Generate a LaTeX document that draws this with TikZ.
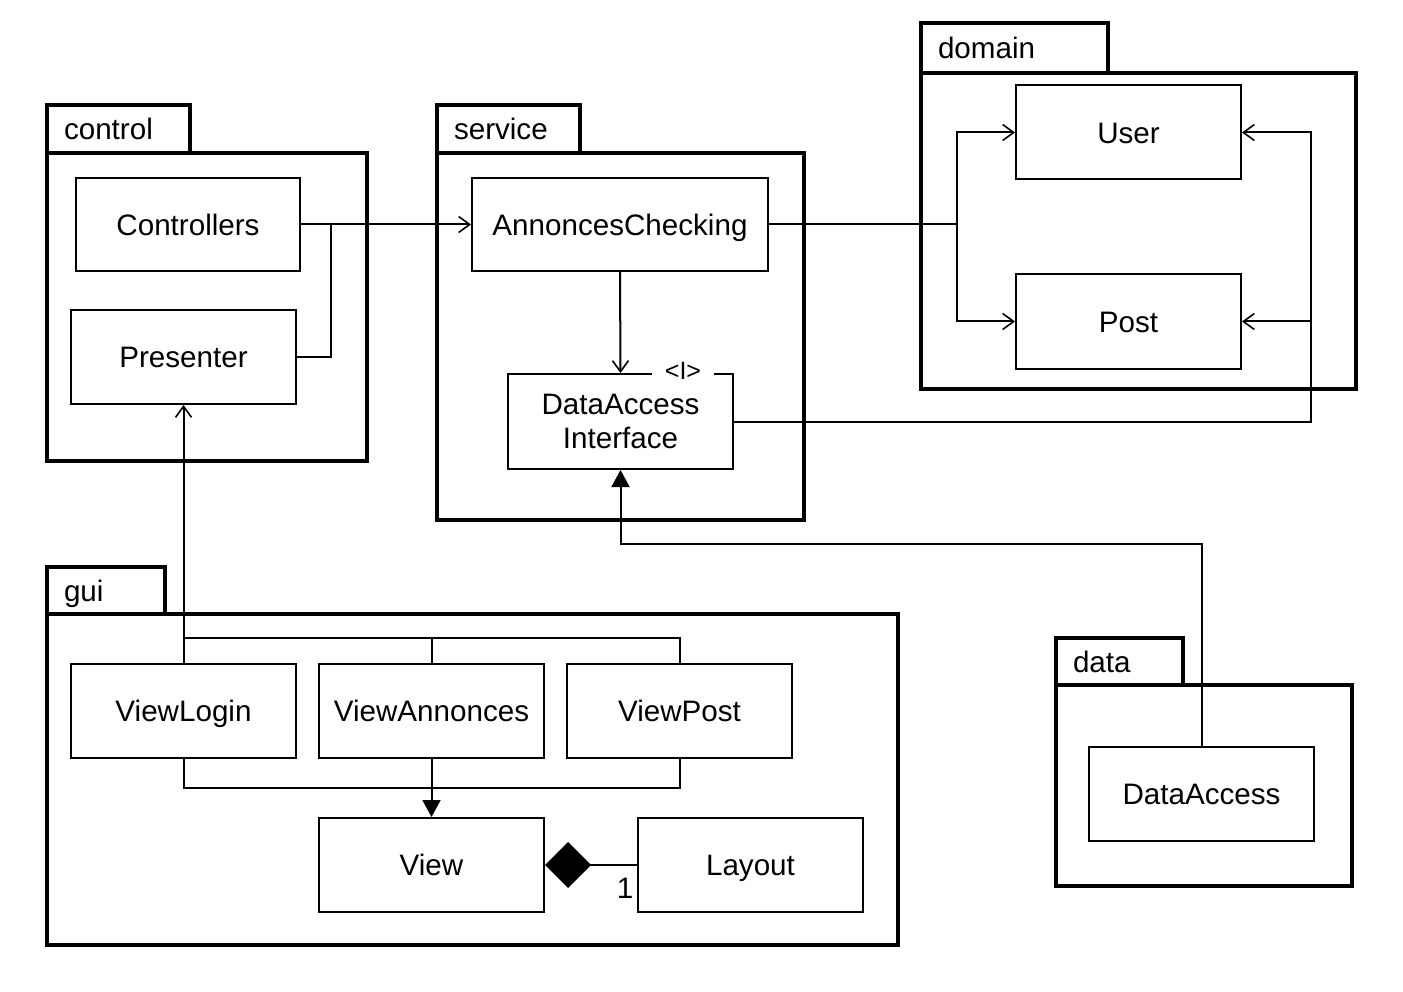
\documentclass[tikz,border=0pt]{standalone}
\usepackage{fontspec}
\setmainfont{Liberation Sans}
\usetikzlibrary{arrows.meta}
\newcommand\clsfont{\fontsize{29.6}{34}\selectfont}
\newcommand\smlfont{\fontsize{25}{28}\selectfont}
\begin{document}
\begin{tikzpicture}[x=1pt,y=-1pt,
  clsbase/.style={draw, line width=2pt, minimum width=225pt, minimum height=94pt, inner sep=0pt, align=center, font=\clsfont, fill=white},
  cls/.style={clsbase, text height=21.2pt, text depth=0pt},
  pkgbody/.style={draw, line width=4pt, anchor=north west, inner sep=0pt, outer sep=0pt},
  pkgtab/.style={draw, line width=4pt, anchor=north west, outer sep=0pt, inner xsep=17pt, inner ysep=0pt, align=left, font=\clsfont, text height=21.2pt, text depth=0pt},
  conn/.style={line width=2pt},
  oarrow/.style={conn, -{Straight Barb[length=11pt,width=16pt,line width=1.6pt]}},
  tri/.style={conn, -{Triangle[length=17pt,width=18pt]}},
  comp/.style={conn, -{Diamond[length=46pt,width=46pt]}}
]
\useasboundingbox (0,0) rectangle (1403,992);
\fill[white] (0,0) rectangle (1403,992);

% packages
\node[pkgbody, minimum width=320pt, minimum height=308pt] (pctrl) at (47,153) {};
\node[pkgtab, text width=109pt, minimum height=48pt] (tctrl) at (47,105) {control};
\node[pkgbody, minimum width=367pt, minimum height=367pt] (pserv) at (437,153) {};
\node[pkgtab, text width=109pt, minimum height=48pt] (tserv) at (437,105) {service};
\node[pkgbody, minimum width=435pt, minimum height=316pt] (pdom) at (921,73) {};
\node[pkgtab, text width=153pt, minimum height=50pt] (tdom) at (921,23) {domain};
\node[pkgbody, minimum width=851pt, minimum height=331pt] (pgui) at (47,614) {};
\node[pkgtab, text width=84pt, minimum height=47pt] (tgui) at (47,567) {gui};
\node[pkgbody, minimum width=296pt, minimum height=201pt] (pdata) at (1056,685) {};
\node[pkgtab, text width=93pt, minimum height=47pt] (tdata) at (1056,638) {data};

% classes
\node[cls, minimum width=224pt, minimum height=93pt] (ctrl) at (188,224.5) {Controllers};
\node[cls] (pres) at (183.5,357) {Presenter};
\node[cls, minimum width=296pt, minimum height=93pt] (ach) at (620,224.5) {AnnoncesChecking};
\node[clsbase, minimum height=95pt] (dai) at (620.5,421.5) {DataAccess\\Interface};
\node[cls] (user) at (1128.5,132.5) {User};
\node[cls] (post) at (1128.5,321.5) {Post};
\node[cls] (vlogin) at (183.5,711) {ViewLogin};
\node[cls] (vann) at (431.5,711) {ViewAnnonces};
\node[cls] (vpost) at (679.5,711) {ViewPost};
\node[cls] (view) at (431.5,865) {View};
\node[cls] (layout) at (750.5,865) {Layout};
\node[cls] (da) at (1201.5,793.5) {DataAccess};

% junction points
\coordinate (j1) at (331,224.5);
\coordinate (j2) at (957,224.5);
\coordinate (j3) at (1311,321.5);
\coordinate (j4) at (1201.5,544);
\coordinate (g1) at (183.5,638);
\coordinate (g2) at (431.5,788);

% connectors
\draw[oarrow] (ctrl.east) -- (ach.west);
\draw[conn] (pres.east) -| (j1);
\draw[oarrow] (ach.south) -- (dai.north);
\draw[conn] (ach.east) -- (j2);
\draw[oarrow] (j2) |- (user.west);
\draw[oarrow] (j2) |- (post.west);
\draw[oarrow] (dai.east) -| (j3) |- (user.east);
\draw[oarrow] (j3) -- (post.east);
\draw[tri] (da.north) -- (j4) -| (dai.south);
\node[fill=white, minimum width=62pt, minimum height=20pt, inner sep=0pt, font=\smlfont] (stereo) at (683,371) {<I>};

\draw[oarrow] (vlogin.north) -- (pres.south);
\draw[conn] (g1) -| (vpost.north);
\draw[conn] (vann.north) -- (vann.north |- g1);
\draw[conn] (vlogin.south) |- (g2) -| (vpost.south);
\draw[tri] (vann.south) -- (view.north);
\draw[comp] (layout.west) -- (view.east);
\node[font=\clsfont, inner sep=0pt] (mult) at (625,888) {1};
\end{tikzpicture}
\end{document}
